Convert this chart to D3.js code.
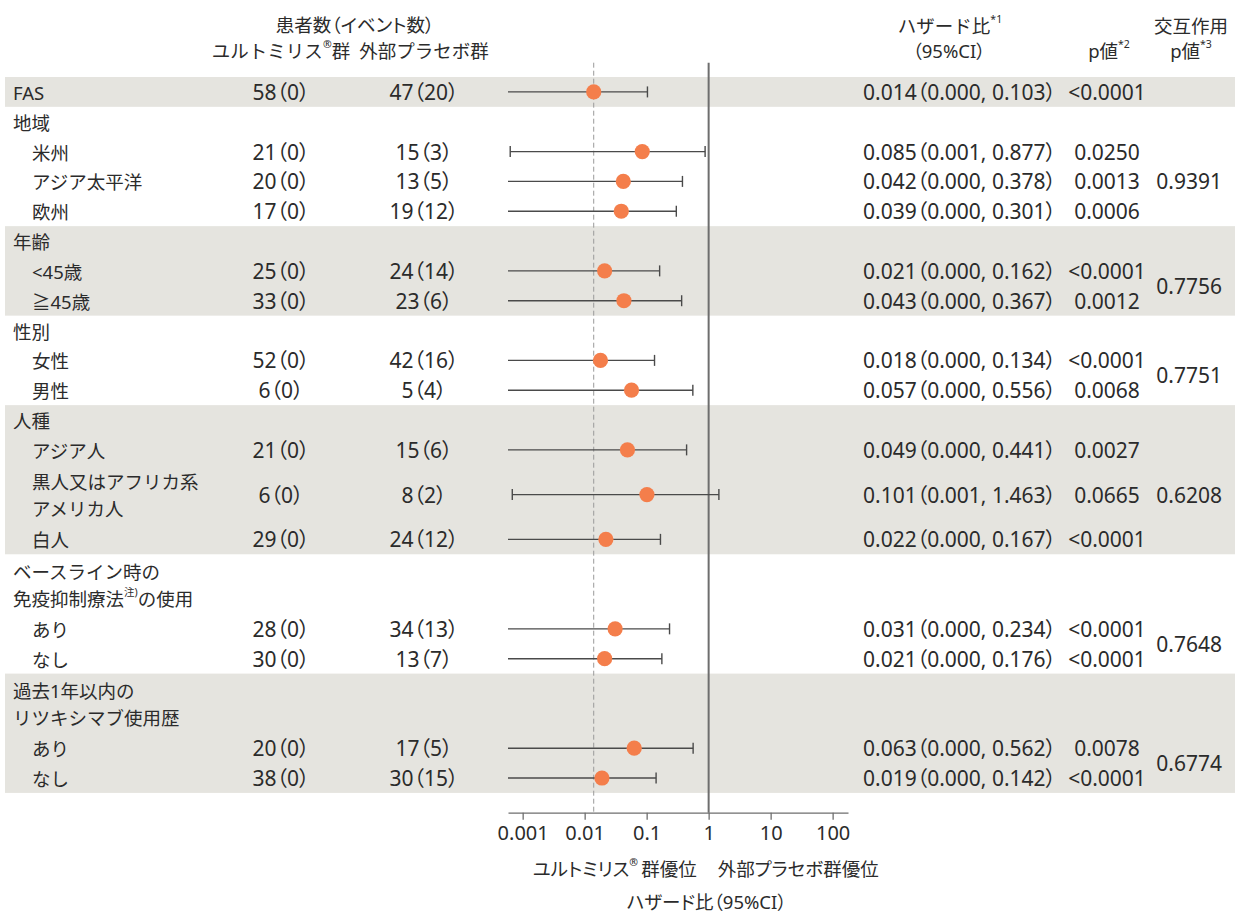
<!DOCTYPE html>
<html><head><meta charset="utf-8">
<script src="https://cdn.jsdelivr.net/npm/d3@7"></script>
<style>
body{margin:0;background:#fff;}
svg{display:block;}
text{font-family:"Noto Sans","Noto Sans CJK JP",sans-serif;fill:#2b2b2b;}
.jp{font-size:18.5px;}
.num{font-size:21px;font-feature-settings:"palt" 1;}
.tick text{font-size:20px;}
.palt{font-feature-settings:"palt" 1;}
</style></head>
<body>
<svg id="chart" width="1235" height="914"></svg>
<script>
// ---------- data ----------
const rowLabels = ["FAS","地域","米州","アジア太平洋","欧州","年齢","<45歳","≧45歳","性別","女性","男性","人種","アジア人","黒人又はアフリカ系|アメリカ人","白人","ベースライン時の|免疫抑制療法^{注)}の使用","あり","なし","過去1年以内の|リツキシマブ使用歴","あり","なし"];
const rowGroup  = [0,1,1,1,1,2,2,2,3,3,3,4,4,4,4,5,5,5,6,6,6];
const rowIndent = [0,0,1,1,1,0,1,1,0,1,1,0,1,1,1,0,1,1,0,1,1];
const ultomirisN = ["58(0)","","21(0)","20(0)","17(0)","","25(0)","33(0)","","52(0)","6(0)","","21(0)","6(0)","29(0)","","28(0)","30(0)","","20(0)","38(0)"];
const placeboN   = ["47(20)","","15(3)","13(5)","19(12)","","24(14)","23(6)","","42(16)","5(4)","","15(6)","8(2)","24(12)","","34(13)","13(7)","","17(5)","30(15)"];
const hazardRatio = [0.014,null,0.085,0.042,0.039,null,0.021,0.043,null,0.018,0.057,null,0.049,0.101,0.022,null,0.031,0.021,null,0.063,0.019];
const ciLower = [0,null,0.00063,0,0,null,0,0,null,0,0,null,0,0.00068,0,null,0,0,null,0,0];
const ciUpper = [0.103,null,0.877,0.378,0.301,null,0.162,0.367,null,0.134,0.556,null,0.441,1.463,0.167,null,0.234,0.176,null,0.562,0.142];
const hrLabels = ["0.014(0.000, 0.103)","","0.085(0.001, 0.877)","0.042(0.000, 0.378)","0.039(0.000, 0.301)","","0.021(0.000, 0.162)","0.043(0.000, 0.367)","","0.018(0.000, 0.134)","0.057(0.000, 0.556)","","0.049(0.000, 0.441)","0.101(0.001, 1.463)","0.022(0.000, 0.167)","","0.031(0.000, 0.234)","0.021(0.000, 0.176)","","0.063(0.000, 0.562)","0.019(0.000, 0.142)"];
const pValues = ["<0.0001","","0.0250","0.0013","0.0006","","<0.0001","0.0012","","<0.0001","0.0068","","0.0027","0.0665","<0.0001","","<0.0001","<0.0001","","0.0078","<0.0001"];
const interactionP = [null,"0.9391","0.7756","0.7751","0.6208","0.7648","0.6774"];
const tickValues = [0.001,0.01,0.1,1,10,100];
const tickLabels = ["0.001","0.01","0.1","1","10","100"];
const axisDomain = [0.00058,177];

// ---------- layout ----------
const svg = d3.select("#chart");
const tableTop = 77, unit = 29.83;
const colUlt = 281, colPla = 424, colHR = 863, colP = 1107, colInt = 1222;
const plotTop = 62.7, axisY = 812.7;
const x = d3.scaleLog().domain(axisDomain).range([508,848]);

const fw = s => s.replace(/\(/g,"（").replace(/\)/g,"）");

// row positions
const rowUnits = rowLabels.map(l => l.includes("|") ? 2 : 1);
let acc = 0;
const rowTop = [], rowCenter = [];
rowUnits.forEach((u,i) => { rowTop.push(tableTop + acc*unit); rowCenter.push(tableTop + (acc+u/2)*unit); acc += u; });

// group bands
const groupIds = Array.from(new Set(rowGroup));
const groupExtent = groupIds.map(g => {
  const idx = rowGroup.map((v,i)=>v===g?i:-1).filter(i=>i>=0);
  const first = idx[0], last = idx[idx.length-1];
  return {g, y0: rowTop[first], y1: rowTop[last] + rowUnits[last]*unit, idx};
});
svg.append("g").selectAll("rect").data(groupExtent.filter(d => d.g % 2 === 0)).join("rect")
  .attr("x",5).attr("width",1230)
  .attr("y",d=>d.y0).attr("height",d=>d.y1-d.y0)
  .attr("fill","#e5e4df");

// rich text helper: ^{...} superscript
function richPx(sel, str, supSize, shift){
  const parts = str.split(/(\^\{[^}]*\})/).filter(s=>s.length);
  let raised = false;
  parts.forEach(p => {
    const m = p.match(/^\^\{([^}]*)\}$/);
    if (m) {
      sel.append("tspan").text(m[1]).attr("font-size",supSize).attr("dy", raised ? 0 : -shift);
      raised = true;
    } else {
      const t = sel.append("tspan").text(p);
      if (raised) t.attr("dy", shift);
      raised = false;
    }
  });
}

function header(xp, yp, str, anchor, cls){
  const t = svg.append("text").attr("class",cls||"jp").attr("x",xp).attr("y",yp)
    .attr("text-anchor",anchor||"middle").attr("dominant-baseline","central");
  richPx(t, str, 10.5, 6);
  return t;
}
header(355, 24, fw("患者数(イベント数)"), "middle", "jp palt");
header(281, 50, "ユルトミリス^{®}群");
header(424, 50, "外部プラセボ群");
header(950, 25, "ハザード比^{*1}");
header(949, 50, fw("(95%CI)"), "middle", "jp palt");
header(1109, 50, "p値^{*2}");
header(1191, 25, "交互作用");
header(1191, 50, "p値^{*3}");

// row labels
rowLabels.forEach((lab,i) => {
  const lines = lab.split("|");
  const xp = rowIndent[i] ? 32 : 13;
  lines.forEach((ln,k) => {
    const yp = rowCenter[i] + (lines.length>1 ? (k===0 ? -13.5 : 13.5) : 0);
    const t = svg.append("text").attr("class","jp").attr("x",xp).attr("y",yp)
      .attr("dominant-baseline","central");
    richPx(t, ln, 10.5, 6);
  });
});

// numeric columns
function col(arr, xp, anchor){
  svg.append("g").selectAll("text").data(arr.map((v,i)=>({v,i})).filter(d=>d.v)).join("text")
    .attr("class","num").attr("x",xp).attr("y",d=>rowCenter[d.i])
    .attr("text-anchor",anchor).attr("dominant-baseline","central")
    .text(d=>fw(d.v));
}
col(ultomirisN, colUlt, "middle");
col(placeboN, colPla, "middle");
col(hrLabels, colHR, "start");
col(pValues, colP, "middle");

// interaction p values, centred on subgroup rows
svg.append("g").selectAll("text")
  .data(groupExtent.filter(d => interactionP[d.g]))
  .join("text").attr("class","num")
  .attr("x",colInt).attr("text-anchor","end").attr("dominant-baseline","central")
  .attr("y", d => { const sub = d.idx.filter(i => hazardRatio[i]!=null); return d3.mean(sub, i=>rowCenter[i]); })
  .text(d => interactionP[d.g]);

// reference lines
svg.append("line").attr("x1",x(hazardRatio[0])).attr("x2",x(hazardRatio[0]))
  .attr("y1",plotTop).attr("y2",axisY).attr("stroke","#9a9a9a").attr("stroke-width",1)
  .attr("stroke-dasharray","5,3");
svg.append("line").attr("x1",x(1)).attr("x2",x(1))
  .attr("y1",plotTop).attr("y2",axisY).attr("stroke","#6e6e6e").attr("stroke-width",2);

// CI whiskers and points
const est = hazardRatio.map((v,i)=>({v,i,lo:ciLower[i],hi:ciUpper[i]})).filter(d=>d.v!=null);
const g = svg.append("g");
const dmin = axisDomain[0];
g.selectAll("line.ci").data(est).join("line").attr("class","ci")
  .attr("x1",d=>x(Math.max(d.lo,dmin))).attr("x2",d=>x(d.hi))
  .attr("y1",d=>rowCenter[d.i]).attr("y2",d=>rowCenter[d.i])
  .attr("stroke","#4a4a4a").attr("stroke-width",1.4);
g.selectAll("line.capHi").data(est).join("line").attr("class","capHi")
  .attr("x1",d=>x(d.hi)).attr("x2",d=>x(d.hi))
  .attr("y1",d=>rowCenter[d.i]-5.5).attr("y2",d=>rowCenter[d.i]+5.5)
  .attr("stroke","#4a4a4a").attr("stroke-width",1.4);
g.selectAll("line.capLo").data(est.filter(d=>d.lo>dmin)).join("line").attr("class","capLo")
  .attr("x1",d=>x(d.lo)).attr("x2",d=>x(d.lo))
  .attr("y1",d=>rowCenter[d.i]-5.5).attr("y2",d=>rowCenter[d.i]+5.5)
  .attr("stroke","#4a4a4a").attr("stroke-width",1.4);
g.selectAll("circle").data(est).join("circle")
  .attr("cx",d=>x(d.v)).attr("cy",d=>rowCenter[d.i]).attr("r",7.6)
  .attr("fill","#f47e4b");

// axis
const axis = d3.axisBottom(x).tickValues(tickValues).tickFormat((d,i)=>tickLabels[i]).tickSize(7).tickSizeOuter(0);
const ax = svg.append("g").attr("transform",`translate(0,${axisY})`).call(axis);
ax.attr("font-size",null).attr("font-family",null);
ax.select(".domain").attr("stroke","#6e6e6e").attr("stroke-width",1.3);
ax.selectAll(".tick line").attr("stroke","#6e6e6e").attr("stroke-width",1.3);
ax.selectAll(".tick text").attr("fill","#2b2b2b").attr("y",21).attr("dy","0.32em");

// bottom labels
header(x(1)-12, 868, "ユルトミリス^{®}\u2009群優位", "end", "jp palt");
header(x(1)+9, 868, "外部プラセボ群優位", "start", "jp palt");
header(x(1)-2, 901, fw("ハザード比(95%CI)"), "middle", "jp palt");
</script>
</body></html>
